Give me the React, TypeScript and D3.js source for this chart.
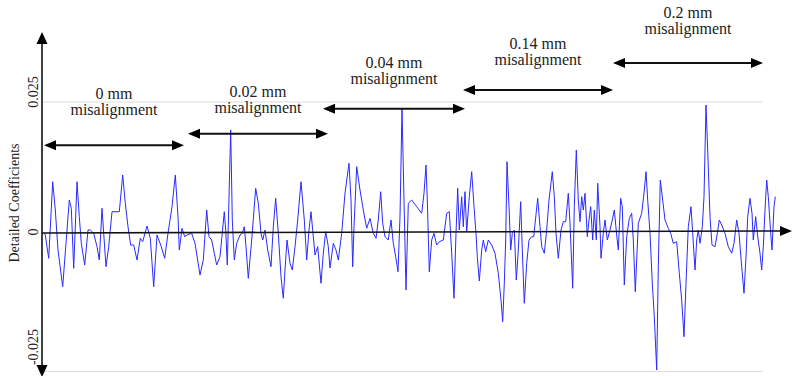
import React, { useEffect, useRef } from 'react';
import * as d3 from 'd3';

// detail coefficients, [sample, value]
const coeffs: [number, number][] = [
  [0, -0.00018], [1.3, -0.00054], [4.7, -0.00476], [8.7, 0.00967], [11.3, 0.00423], [14, -0.00326],
  [18.7, -0.00991], [22, -0.00205], [25.3, 0.00615], [27.3, 0.00456], [29.7, -0.00658], [33, 0.00967],
  [35.3, 0.00294], [37.3, -0.00205], [40.7, -0.00598], [44, 0.00038], [46.3, 0.00038], [49.7, -0.00024],
  [53, -0.00266], [55.3, -0.00507], [58, 0.00456], [59.7, -0.00024], [62, -0.00629], [64.7, -0.00266],
  [68, 0.0039], [72, 0.0039], [75.3, 0.0039], [78.7, 0.01096], [81.3, 0.00552], [84, 0.00102],
  [86.7, -0.00236], [89.7, -0.00236], [93, -0.00507], [96.3, -0.00114], [98.7, -0.00176], [103, 0.00115],
  [106.3, -0.00114], [109.7, -0.00991], [113, -0.00054], [117.3, -0.00266], [120.7, -0.00476], [124, -0.00024],
  [128, 0.00487], [131.3, 0.01096], [134, 0.00294], [135.3, -0.00326], [138, 0.00071], [140.7, -0.00085],
  [143, -0.00054], [147.7, -0.00024], [151, -0.00205], [156, -0.00779], [159.3, -0.00507], [162.7, 0.00423],
  [165, -0.00085], [167.7, -0.00145], [170.3, -0.00386], [172.7, -0.00598], [176, -0.00447], [180.3, 0.0039],
  [181.7, 0.00038], [183.3, -0.00598], [186.7, 0.01962], [188.3, 0.00231], [190.3, -0.00507], [192.7, -0.00205],
  [196, -0.00054], [198.3, -0.00024], [200.3, 0.00102], [202, -0.00266], [204.3, -0.00839], [207.7, -0.00145],
  [211.7, 0.0084], [214.3, 0.00552], [217, -0.00024], [218.7, -0.00145], [221, 0.00038], [223.7, -0.00326],
  [227, -0.00629], [229.3, 0.00102], [231.7, 0.00648], [234.3, -0.00024], [237, -0.0081], [239.3, -0.01201],
  [241, -0.00688], [243, -0.00145], [246, -0.00567], [248.3, -0.00688], [251, -0.00266], [253.7, 0.00231],
  [257, 0.00967], [260.3, 0.00231], [262.7, -0.00507], [265, 0.00038], [267, 0.0039], [268.7, 0.00038],
  [271, -0.00417], [273.7, -0.00266], [277, -0.00929], [279.3, -0.00386], [281.7, 0.00006], [284.3, -0.00266],
  [286, -0.00652], [289.3, -0.00205], [292, -0.00326], [294.3, -0.00507], [297.7, -0.00024], [301, 0.00744],
  [305, 0.01321], [307, 0.00615], [308.7, -0.00629], [310, 0.00102], [312.7, 0.01256], [316, 0.00808],
  [319.3, 0.00423], [322.7, 0.00071], [326, 0.00263], [329.3, -0.00024], [332, -0.00114], [334.3, 0.00231],
  [336.7, 0.00775], [338.7, 0.00167], [341, -0.00085], [344.3, -0.00145], [347, 0.00231], [349.3, -0.00205],
  [351.7, -0.00447], [354, -0.00719], [356, 0.00294], [358, 0.02379], [360, 0.00615], [362, -0.01051],
  [364.3, 0.00552], [367.7, 0.00615], [372.7, 0.00487], [377.7, 0.0036], [380, 0.00744], [382, 0.01288],
  [383.3, 0.00615], [385.3, -0.00719], [387.7, -0.00145], [390, -0.00024], [392.7, -0.00236], [395.3, -0.00176],
  [399.3, -0.00145], [402.7, 0.0036], [405.3, 0.0039], [407.7, -0.00386], [410, -0.01201], [412, -0.00024],
  [413.7, 0.0084], [415.3, 0.00038], [417.7, 0.00679], [419.3, 0.00102], [421, 0.00775], [422.7, 0.00006],
  [425.3, 0.00679], [427.7, 0.0116], [430, 0.00487], [432, -0.00024], [433.3, -0.00447], [435.3, -0.00888],
  [437.7, -0.00326], [439.3, -0.00145], [441.7, -0.00357], [444.3, -0.00145], [447.7, -0.00236], [451, -0.00386],
  [454.3, -0.00748], [457, -0.01232], [458.7, -0.01625], [460.3, -0.00929], [461.7, -0.00145], [463, 0.01352],
  [465, 0.00487], [466.7, -0.00326], [468.3, -0.00024], [470.3, 0.00038], [472.3, -0.0087], [474.3, -0.00326],
  [476.7, 0.00583], [478.3, -0.00326], [480.3, -0.01292], [482.7, -0.00567], [485, -0.00145], [487.7, -0.00085],
  [489.7, -0.00085], [493.7, 0.00648], [496, 0.00102], [497.7, -0.00266], [500.3, -0.00386], [502.7, 0.00038],
  [505, 0.00615], [508.3, 0.0116], [510.3, 0.00679], [512, -0.00024], [514.3, -0.00476], [517, 0.00038],
  [519.3, 0.00198], [521.7, 0.00198], [524.3, 0.00744], [526, 0.00167], [528.7, -0.0102], [530.3, 0.00487],
  [532.3, 0.01577], [534.3, 0.00615], [536, 0.00198], [537.7, 0.00679], [539.3, 0.00423], [541, 0.00744],
  [543.3, -0.00085], [545, 0.00231], [546.7, 0.00487], [548.7, -0.00145], [550.3, 0.00423], [552.3, -0.00145],
  [553.7, 0.00937], [556, 0.00102], [557, -0.00476], [559.3, -0.00024], [561, 0.00231], [563.3, -0.00145],
  [566, 0.00038], [568.3, 0.00231], [570.3, 0.00423], [572.7, -0.00054], [574.3, -0.00326], [576.7, 0.00648],
  [578.3, 0.00487], [580.3, -0.0096], [582.7, -0.00085], [585.3, 0.00263], [587.7, 0.0036], [589.3, -0.00145],
  [591.3, -0.01082], [594.3, 0.00167], [597.7, 0.0036], [600, 0.00744], [602, 0.0116], [603.7, 0.00615],
  [606, -0.00024], [608.3, -0.00929], [610.3, -0.01534], [612.7, -0.025], [614.3, -0.00629], [616.3, 0.01],
  [618.7, 0.00615], [621, 0.00231], [624.3, 0.00071], [626.7, -0.00024], [629.3, -0.00205], [632.7, -0.00176],
  [635.3, -0.00748], [637.7, -0.01232], [640, -0.01897], [642, -0.00929], [644.3, 0.00102], [647, 0.00487],
  [648.7, -0.00024], [651, -0.00688], [652.7, -0.00145], [654.3, 0.00038], [656, -0.00205], [658.3, 0.00102],
  [660, 0.00679], [662, 0.02442], [663.7, 0.01577], [666, 0.00294], [668, -0.00236], [671, -0.00266],
  [673.3, -0.00024], [675.3, 0.00231], [677.7, 0.00135], [681, -0.00024], [684.3, -0.00266], [687.7, -0.00386],
  [690, -0.00205], [692.7, 0.00231], [695, -0.00024], [697.7, -0.00629], [700, -0.0111], [702, -0.00447],
  [703.7, 0.00294], [706, 0.00648], [708, 0.0036], [709.3, -0.00145], [711.7, 0.00294], [713.7, -0.00085],
  [716, -0.00386], [717.7, -0.00688], [719.3, -0.00266], [721, 0.00423], [722.7, 0.01], [724.3, 0.00679],
  [726.7, -0.00024], [728, -0.00326], [730, 0.00487], [731.3, 0.00679]
];

// misalignment cases (sample ranges)
const caseNames = ['0 mm', '0.02 mm', '0.04 mm', '0.14 mm', '0.2 mm'];
const caseStart = [0, 144, 279, 419, 569];
const caseEnd = [140, 284, 421, 569, 719];
const caseLevel = [0.0167, 0.0189, 0.0237, 0.0273, 0.0325];

const yTicks = [0.025, 0, -0.025];
const yTickLabels = ['0.025', '0', '-0.025'];

const W = 792;
const H = 376;
const FONT = "'Liberation Serif', 'DejaVu Serif', serif";

const App = () => {
  const svgRef = useRef<SVGSVGElement>(null);

  useEffect(() => {
    if (!svgRef.current) return;
    const svg = d3.select(svgRef.current);
    svg.selectAll('*').remove();

    const x = d3.scaleLinear().domain([0, 731]).range([44, 775]);
    const y = d3.scaleLinear().domain([-0.025, 0, 0.025]).range([370, 232, 102]);
    const axisX = 42;

    svg.append('rect').attr('width', W).attr('height', H).attr('fill', 'white');

    // grid lines at +-0.025
    svg.selectAll('.grid')
      .data([0.025, -0.025])
      .enter()
      .append('line')
      .attr('x1', axisX).attr('x2', 763)
      .attr('y1', d => y(d) + (d < 0 ? 1.5 : 0))
      .attr('y2', d => y(d) + (d < 0 ? 1.5 : 0))
      .attr('stroke', '#dcdcdc')
      .attr('stroke-width', 1);

    const tri = (tx: number, ty: number, dir: 'l' | 'r' | 'u' | 'd', len = 11, hw = 5) => {
      let p = '';
      if (dir === 'r') p = `M${tx},${ty}L${tx - len},${ty - hw}L${tx - len},${ty + hw}Z`;
      if (dir === 'l') p = `M${tx},${ty}L${tx + len},${ty - hw}L${tx + len},${ty + hw}Z`;
      if (dir === 'u') p = `M${tx},${ty}L${tx - hw},${ty + len}L${tx + hw},${ty + len}Z`;
      if (dir === 'd') p = `M${tx},${ty}L${tx - hw},${ty - len}L${tx + hw},${ty - len}Z`;
      svg.append('path').attr('d', p).attr('fill', '#000');
    };

    // signal
    const line = d3.line<[number, number]>()
      .x(d => x(d[0]))
      .y(d => y(d[1]));
    svg.append('path')
      .datum(coeffs)
      .attr('d', line)
      .attr('fill', 'none')
      .attr('stroke', '#2a2aff')
      .attr('stroke-width', 1);

    // x axis (zero line)
    svg.append('line')
      .attr('x1', axisX).attr('y1', y(0) + 1)
      .attr('x2', 782).attr('y2', y(0) - 1)
      .attr('stroke', '#111').attr('stroke-width', 1.6);
    tri(792, y(0) - 1, 'r', 12, 5);

    // y axis
    svg.append('line')
      .attr('x1', axisX).attr('y1', 40)
      .attr('x2', axisX).attr('y2', H - 6)
      .attr('stroke', '#111').attr('stroke-width', 1.6);
    tri(axisX, 32, 'u', 12, 5.5);
    tri(axisX, H + 1, 'd', 12, 5.5);

    // y tick labels
    const labelShift = [-10, 0, -23];
    yTicks.forEach((t, i) => {
      svg.append('text')
        .attr('transform', `translate(38, ${y(t) + labelShift[i]}) rotate(-90)`)
        .attr('text-anchor', 'middle')
        .style('font-family', FONT)
        .attr('font-size', 14)
        .attr('fill', '#222')
        .text(yTickLabels[i]);
    });

    svg.append('text')
      .attr('transform', 'translate(19, 203) rotate(-90)')
      .attr('text-anchor', 'middle')
      .style('font-family', FONT)
      .attr('font-size', 14)
      .attr('fill', '#222')
      .text('Detailed Coefficients');

    // misalignment annotations
    const gap = [46, 37, 41, 41, 45];
    caseNames.forEach((name, i) => {
      const x0 = x(caseStart[i]);
      const x1 = x(caseEnd[i]);
      const ay = y(caseLevel[i]);
      svg.append('line')
        .attr('x1', x0 + 8).attr('x2', x1 - 8)
        .attr('y1', ay).attr('y2', ay)
        .attr('stroke', '#111').attr('stroke-width', 2);
      tri(x0, ay, 'l', 12, 5);
      tri(x1, ay, 'r', 12, 5);

      const cx = (x0 + x1) / 2;
      const base = ay - gap[i];
      const t = svg.append('text')
        .attr('text-anchor', 'middle')
        .style('font-family', FONT)
        .attr('font-size', 16)
        .attr('fill', '#222');
      t.append('tspan').attr('x', cx).attr('y', base).text(name);
      t.append('tspan').attr('x', cx).attr('y', base + 16).text('misalignment');
    });
  }, []);

  return (
    <svg
      ref={svgRef}
      width={W}
      height={H}
      viewBox={`0 0 ${W} ${H}`}
      style={{ position: 'absolute', left: 0, top: 0, display: 'block' }}
    />
  );
};

export default App;
